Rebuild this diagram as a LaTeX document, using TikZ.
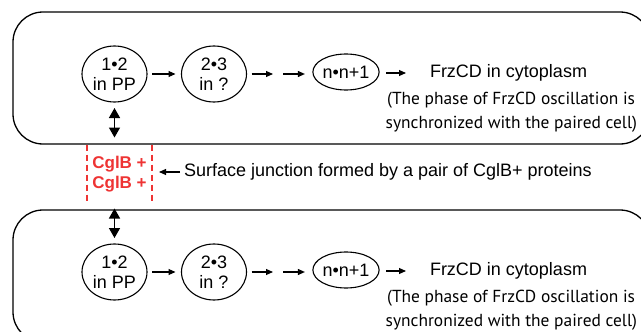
\documentclass[tikz,border=0pt]{standalone}
\usepackage{fontspec}
\setmainfont{Liberation Sans}
\newfontfamily\notefont{PT Sans}
\usetikzlibrary{arrows.meta,shapes.geometric}
\definecolor{junctred}{RGB}{238,52,52}
\begin{document}
\begin{tikzpicture}[x=1pt,y=-1pt,
  every node/.style={inner sep=0pt,outer sep=0pt},
  cellbox/.style={draw,line width=1.3pt,rounded corners=30pt},
  state/.style={draw,ellipse,line width=1.1pt,font=\fontsize{18}{20}\selectfont,
    align=center,minimum width=65pt,minimum height=56pt},
  endstate/.style={draw,ellipse,line width=1.1pt,font=\fontsize{18}{20}\selectfont,
    minimum width=66pt,minimum height=36pt},
  label/.style={font=\fontsize{18}{20}\selectfont,anchor=west},
  note/.style={font=\notefont\fontsize{17.4}{20}\selectfont,anchor=east},
  flow/.style={-{Triangle[length=7pt,width=6pt]},line width=1.1pt},
  link/.style={{Triangle[length=10pt,width=11pt]}-{Triangle[length=10pt,width=11pt]},line width=1.4pt},
  junction/.style={draw=junctred,line width=1.1pt,dash pattern=on 6pt off 4pt}
]
\useasboundingbox (0,0) rectangle (641,332);

% two paired cells, each with its FrzCD state sequence
\foreach \c/\y in {t/0,b/198}{
  \draw[cellbox] (13,12+\y) rectangle (650,144+\y);
  \node[state] (e1\c) at (114.5,74+\y) {1\textbullet2\\in PP};
  \node[state] (e2\c) at (214,74+\y) {2\textbullet3\\in ?};
  \node[endstate] (e3\c) at (346,72+\y) {n\textbullet n+1};
  \coordinate (gap\c) at (278,74+\y);
  \node[label] (f\c) at (430,73+\y) {FrzCD in cytoplasm};
  \node[note] (p\c) at (635,100+\y) {(The phase of FrzCD oscillation is};
  \node[note] (q\c) at (637,124+\y) {synchronized with the paired cell)};
  \draw[flow,shorten <=5pt,shorten >=6pt] (e1\c) -- (e2\c);
  \draw[flow,shorten <=5pt,shorten >=5pt] (e2\c.east |- gap\c) -- (gap\c);
  \draw[flow,shorten <=5pt,shorten >=8pt] (gap\c) -- (gap\c -| e3\c.west);
  \draw[flow,shorten <=7pt,shorten >=24pt] (e3\c.east |- f\c.west) -- (f\c.west);
}

% surface junction between the two cells
\node[minimum width=65pt,minimum height=59pt,align=center,
      font=\bfseries\fontsize{17}{20}\selectfont,text=junctred] (jn) at (119.5,174)
      {CglB +\\CglB +};
\draw[junction] (jn.north west) -- (jn.south west);
\draw[junction] (jn.north east) -- (jn.south east);

\node[label] (sj) at (184,172) {Surface junction formed by a pair of CglB+ proteins};
\draw[flow,shorten <=4pt,shorten >=7pt] (sj.west) -- (jn.east |- sj.west);

\draw[link,shorten <=6pt,shorten >=7pt] (e1t.south) -- (e1t.south |- jn.north);
\draw[link,shorten <=5pt,shorten >=6pt] (e1b.north |- jn.south) -- (e1b.north);
\end{tikzpicture}
\end{document}
